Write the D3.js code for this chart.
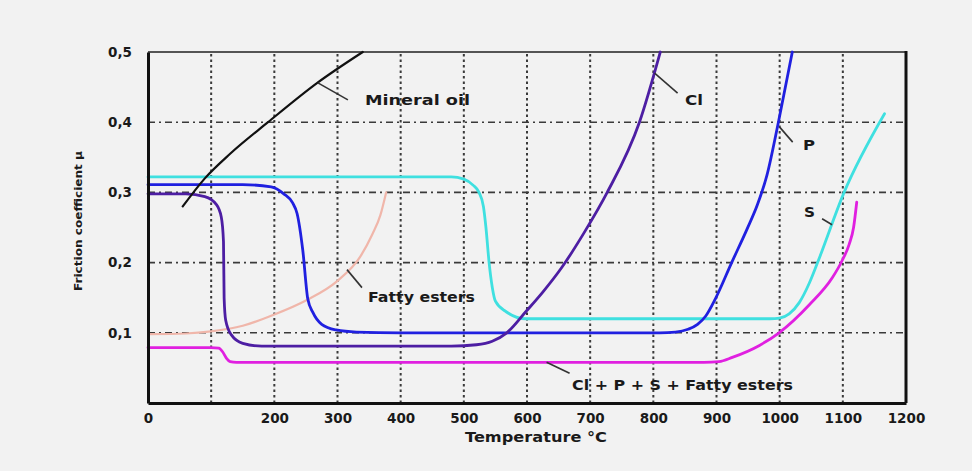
<!DOCTYPE html>
<html>
<head>
<meta charset="utf-8">
<script src="https://cdn.jsdelivr.net/npm/d3@7"></script>
<style>
  body { margin: 0; background: #f2f2f2; }
  text { font-family: "DejaVu Sans", sans-serif; font-weight: bold; fill: #1a1a1a; }
</style>
</head>
<body>
<svg id="chart" width="972" height="471"></svg>
<script>
// tick labels and grid values
const xTickLabels = [0, 200, 300, 400, 500, 600, 700, 800, 900, 1000, 1100, 1200];
const xGrid = [100, 200, 300, 400, 500, 600, 700, 800, 900, 1000, 1100];
const yTickLabels = [0.1, 0.2, 0.3, 0.4, 0.5];
const yGrid = [0.1, 0.2, 0.3, 0.4];

// series: temperature (°C) and friction coefficient
const mineralT  = [55, 90, 130, 190, 268, 340];
const mineralMu = [0.28, 0.32, 0.355, 0.4, 0.456, 0.5];

const fattyT  = [0, 60, 100, 150, 200, 250, 300, 335, 355, 368, 377];
const fattyMu = [0.098, 0.099, 0.102, 0.11, 0.126, 0.146, 0.174, 0.207, 0.24, 0.268, 0.3];

const clT  = [0, 60, 90, 108, 116, 119.5, 120.5, 123, 132, 150, 180, 300, 480, 520, 545, 568, 599, 625, 655, 690, 727, 778, 811];
const clMu = [0.298, 0.298, 0.294, 0.283, 0.265, 0.23, 0.15, 0.118, 0.097, 0.085, 0.081, 0.081, 0.081, 0.083, 0.088, 0.1, 0.131, 0.158, 0.193, 0.242, 0.3, 0.4, 0.5];

const pT  = [0, 150, 195, 215, 229, 236, 245, 253, 261, 275, 298, 330, 400, 810, 835, 855, 870, 883, 898, 924, 948, 965, 980, 998, 1020];
const pMu = [0.311, 0.311, 0.308, 0.298, 0.285, 0.27, 0.218, 0.148, 0.129, 0.112, 0.104, 0.101, 0.1, 0.1, 0.101, 0.105, 0.112, 0.124, 0.148, 0.2, 0.247, 0.283, 0.325, 0.4, 0.5];

const sT  = [0, 480, 500, 515, 524, 531, 535, 540, 545, 550, 567, 598, 700, 985, 1000, 1015, 1031, 1047, 1060, 1102, 1166];
const sMu = [0.322, 0.322, 0.319, 0.31, 0.3, 0.28, 0.25, 0.2, 0.165, 0.145, 0.13, 0.12, 0.12, 0.12, 0.121, 0.127, 0.143, 0.171, 0.2, 0.3, 0.412];

const allT  = [0, 100, 112, 118, 124, 130, 140, 300, 880, 904, 925, 968, 999, 1047, 1083, 1099, 1110, 1117, 1122];
const allMu = [0.079, 0.079, 0.078, 0.073, 0.064, 0.059, 0.058, 0.058, 0.058, 0.059, 0.065, 0.082, 0.1, 0.14, 0.178, 0.203, 0.226, 0.25, 0.286];

const seriesNames  = ['Fatty esters', 'Cl + P + S + Fatty esters', 'S', 'P', 'Cl', 'Mineral oil'];
const seriesColors = ['#f0b6aa', '#e020e0', '#3fe0e0', '#2020e0', '#4d1ea3', '#111111'];

const svg = d3.select('#chart');
const width = 972, height = 471;
const margin = { top: 52, right: 66, bottom: 68, left: 148 };

const x = d3.scaleLinear().domain([0, 1200]).range([margin.left, width - margin.right]);
const y = d3.scaleLinear().domain([0, 0.5]).range([height - margin.bottom, margin.top]);

svg.append('rect').attr('width', width).attr('height', height).attr('fill', '#f2f2f2');

// grid lines
svg.append('g').selectAll('line').data(xGrid).enter().append('line')
  .attr('x1', d => x(d)).attr('x2', d => x(d))
  .attr('y1', y(0)).attr('y2', y(0.5))
  .attr('stroke', '#3a3a3a').attr('stroke-width', 2)
  .attr('stroke-dasharray', '2.5,3');

svg.append('g').selectAll('line').data(yGrid).enter().append('line')
  .attr('x1', x(0)).attr('x2', x(1200))
  .attr('y1', d => y(d)).attr('y2', d => y(d))
  .attr('stroke', '#3a3a3a').attr('stroke-width', 1.6)
  .attr('stroke-dasharray', '7,4,2,4');

// frame top + right
svg.append('line').attr('x1', x(0)).attr('x2', x(1200)).attr('y1', y(0.5)).attr('y2', y(0.5))
  .attr('stroke', '#555').attr('stroke-width', 2);
svg.append('line').attr('x1', x(1200)).attr('x2', x(1200)).attr('y1', y(0.5) - 1).attr('y2', y(0))
  .attr('stroke', '#111').attr('stroke-width', 3);

// curves
const seriesT  = [fattyT, allT, sT, pT, clT, mineralT];
const seriesMu = [fattyMu, allMu, sMu, pMu, clMu, mineralMu];

const line = d3.line()
  .x(d => x(d[0]))
  .y(d => y(d[1]))
  .curve(d3.curveMonotoneX);

seriesNames.forEach((name, i) => {
  const pts = seriesT[i].map((t, j) => [t, seriesMu[i][j]]);
  svg.append('path')
    .datum(pts)
    .attr('d', line)
    .attr('fill', 'none')
    .attr('stroke', seriesColors[i])
    .attr('stroke-width', name === 'Mineral oil' || name === 'Fatty esters' ? 2.2 : 2.8)
    .attr('stroke-linecap', 'round');
});

// axes
const xAxis = d3.axisBottom(x).tickValues(xTickLabels).tickSize(0).tickPadding(10)
  .tickFormat(d3.format('d'));
const xAxisG = svg.append('g').attr('transform', `translate(0,${y(0)})`).call(xAxis);
xAxisG.select('.domain').attr('stroke', '#111').attr('stroke-width', 3);
xAxisG.selectAll('text').style('font-size', '13.5px').style('font-family', '"DejaVu Sans", sans-serif')
  .attr('fill', '#1a1a1a');

const yAxis = d3.axisLeft(y).tickValues(yTickLabels).tickSize(0).tickPadding(16)
  .tickFormat(d => d3.format('.1f')(d).replace('.', ','));
const yAxisG = svg.append('g').attr('transform', `translate(${x(0)},0)`).call(yAxis);
yAxisG.select('.domain').attr('stroke', '#111').attr('stroke-width', 3);
yAxisG.selectAll('text').style('font-size', '13.5px').style('font-family', '"DejaVu Sans", sans-serif')
  .attr('fill', '#1a1a1a');

// axis titles
svg.append('text')
  .attr('x', 536).attr('y', 442)
  .attr('text-anchor', 'middle')
  .attr('textLength', 142).attr('lengthAdjust', 'spacingAndGlyphs')
  .style('font-size', '13.5px')
  .text('Temperature °C');

svg.append('text')
  .attr('transform', 'translate(82,221) rotate(-90)')
  .attr('text-anchor', 'middle')
  .attr('textLength', 140).attr('lengthAdjust', 'spacingAndGlyphs')
  .style('font-size', '11px')
  .text('Friction coefficient μ');

// curve labels with leader lines: anchor on curve (data units), label offset in px
const notes = [
  { text: 'Mineral oil', t: 269, mu: 0.456, dx: 30, dy: 17, lx: 365, ly: 105, len: 105 },
  { text: 'Fatty esters', t: 315, mu: 0.19, dx: 15, dy: 18, lx: 368, ly: 302, len: 107 },
  { text: 'Cl', t: 802, mu: 0.47, dx: 23, dy: 20, lx: 685, ly: 105, len: 18 },
  { text: 'P', t: 1000, mu: 0.393, dx: 13, dy: 15, lx: 803, ly: 150, len: 12 },
  { text: 'S', t: 1083, mu: 0.254, dx: -10, dy: -6, lx: 804, ly: 217, len: 11 },
  { text: 'Cl + P + S + Fatty esters', t: 631, mu: 0.058, dx: 23, dy: 11, lx: 572, ly: 390, len: 221 }
];

notes.forEach(n => {
  svg.append('line')
    .attr('x1', x(n.t)).attr('y1', y(n.mu))
    .attr('x2', x(n.t) + n.dx).attr('y2', y(n.mu) + n.dy)
    .attr('stroke', '#333').attr('stroke-width', 1.6);
  svg.append('text')
    .attr('x', n.lx).attr('y', n.ly)
    .attr('textLength', n.len).attr('lengthAdjust', 'spacingAndGlyphs')
    .style('font-size', '14px')
    .text(n.text);
});
</script>
</body>
</html>
